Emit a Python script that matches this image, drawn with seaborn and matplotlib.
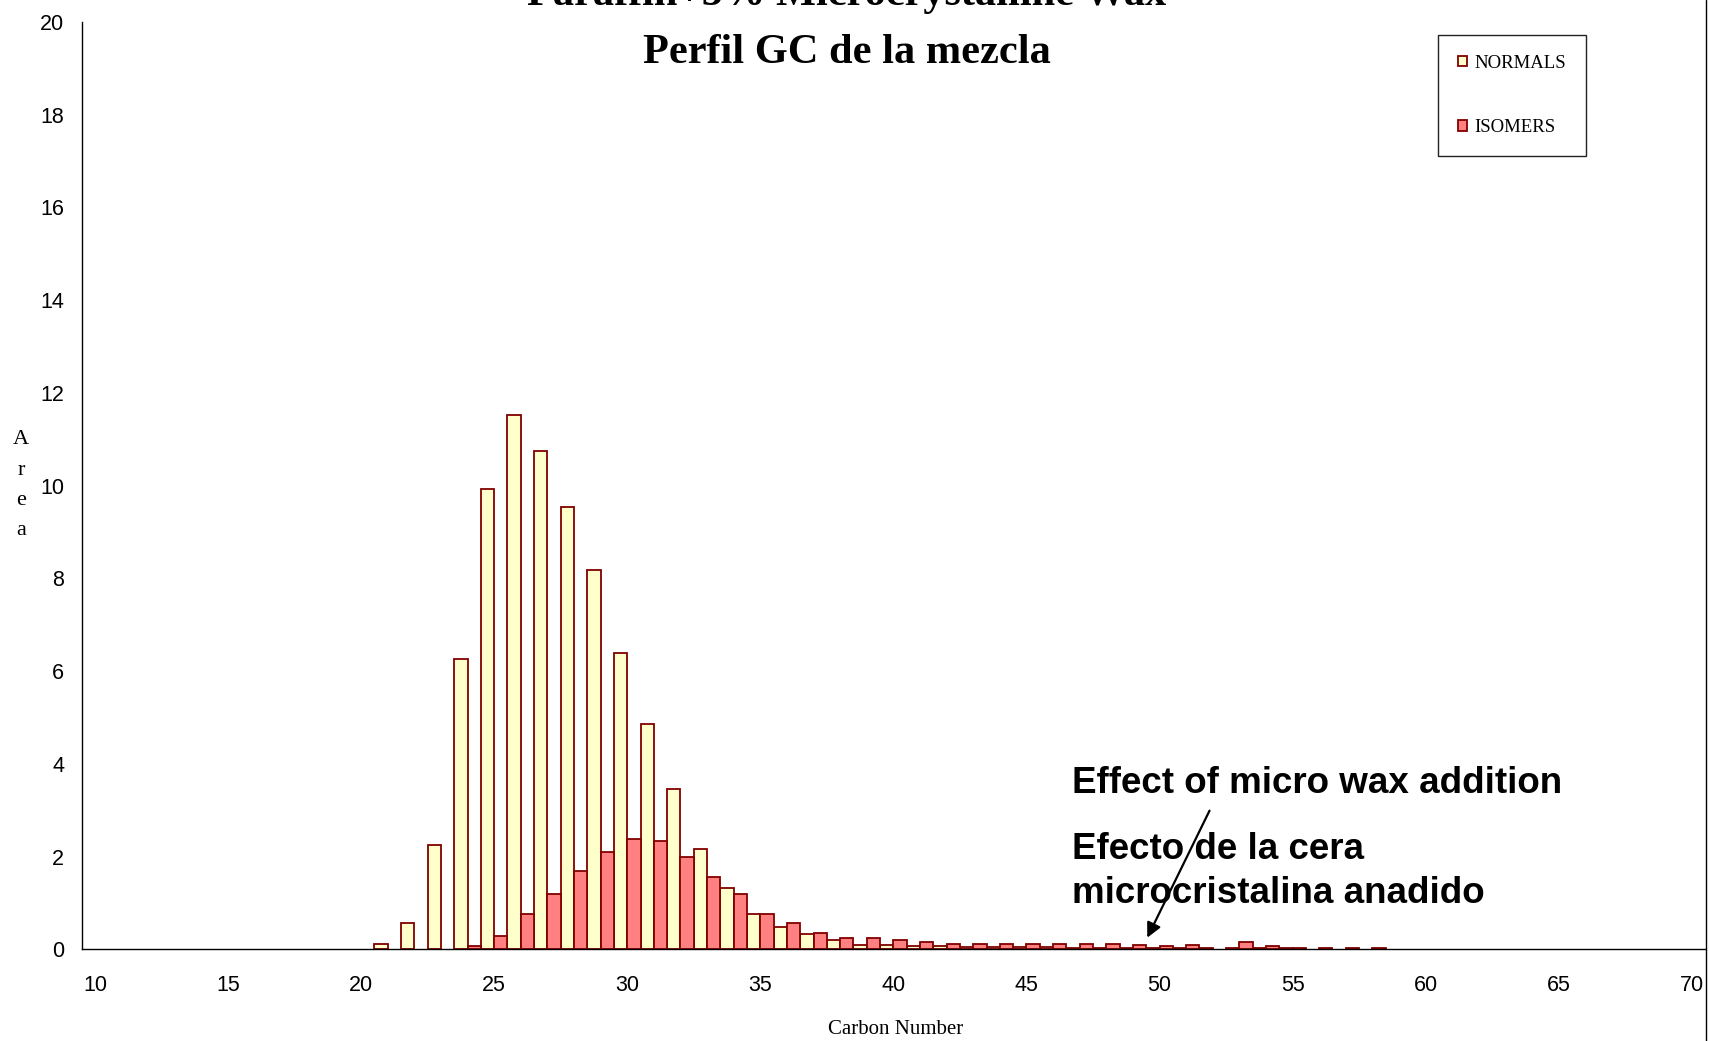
#!/usr/bin/env python
"""
GC profile of the paraffin + 5% microcrystalline wax blend.

Bar chart of peak area per carbon number, n-paraffins (NORMALS) next to
iso-paraffins (ISOMERS), with a note on the tail that the micro wax adds.
"""

import numpy as np
import pandas as pd
import matplotlib
matplotlib.use("Agg")
import matplotlib.pyplot as plt
import seaborn as sns
from matplotlib.lines import Line2D

# Carbon numbers shown on the category axis (10 .. 70)
carbon = list(range(10, 71))

# Peak area, NORMALS (one value per carbon number 10..70)
normals = [
    0, 0, 0, 0, 0, 0, 0, 0, 0, 0,              # 10-19
    0, 0.12, 0.57, 2.25, 6.27, 9.93, 11.52, 10.74, 9.53, 8.17,   # 20-29
    6.39, 4.86, 3.46, 2.17, 1.32, 0.76, 0.48, 0.32, 0.19, 0.10,  # 30-39
    0.10, 0.07, 0.07, 0.06, 0.06, 0.06, 0.045, 0.03, 0.03, 0.03,  # 40-49
    0.03, 0.03, 0.02, 0.03, 0.03, 0.03, 0, 0, 0, 0,              # 50-59
    0, 0, 0, 0, 0, 0, 0, 0, 0, 0, 0,                             # 60-70
]

# Peak area, ISOMERS
isomers = [
    0, 0, 0, 0, 0, 0, 0, 0, 0, 0,              # 10-19
    0, 0, 0, 0, 0.08, 0.29, 0.76, 1.20, 1.68, 2.09,              # 20-29
    2.37, 2.33, 2.00, 1.56, 1.20, 0.76, 0.56, 0.36, 0.245, 0.245,  # 30-39
    0.19, 0.16, 0.12, 0.12, 0.12, 0.12, 0.12, 0.12, 0.12, 0.085,   # 40-49
    0.08, 0.085, 0, 0.16, 0.08, 0.03, 0.03, 0.03, 0.03, 0,       # 50-59
    0, 0, 0, 0, 0, 0, 0, 0, 0, 0, 0,                             # 60-70
]

series_names = ["NORMALS", "ISOMERS"]
series_colors = ["#FFFFCC", "#FF8080"]
edge_color = "#800000"

x_tick_labels = list(range(10, 71, 5))
y_ticks = list(range(0, 21, 2))

title_lines = ["Paraffin+5% Microcrystalline Wax", "Perfil GC de la mezcla"]
note_lines = ["Effect of micro wax addition", "Efecto de la cera",
              "microcristalina anadido"]

SERIF = "Liberation Serif"
SANS = "Liberation Sans"


def build_frame():
    """Long-form table for seaborn, zero areas left out (nothing is drawn there)."""
    df = pd.DataFrame({
        "carbon": carbon * 2,
        "series": [series_names[0]] * len(carbon) + [series_names[1]] * len(carbon),
        "area": normals + isomers,
    })
    return df[df["area"] > 0].reset_index(drop=True)


def plot_profile(df):
    fig = plt.figure(figsize=(17.09, 10.41), dpi=100)
    ax = fig.add_axes([0.0478, 0.0881, 0.9499, 0.8908])

    sns.barplot(data=df, x="carbon", y="area", hue="series",
                hue_order=series_names, palette=series_colors,
                native_scale=True, width=1, gap=0, dodge=True,
                edgecolor=edge_color, linewidth=1.3, saturation=1,
                errorbar=None, ax=ax)

    ax.set_xlim(9.5, 70.5)
    ax.set_ylim(0, 20)

    # Excel style category axis: marks on the category edges, labels centred
    ax.set_xticks(np.arange(9.5, 70, 5))
    ax.set_xticks(x_tick_labels, minor=True)
    ax.set_xticklabels([str(v) for v in x_tick_labels], minor=True,
                       fontsize=15.5, family=SANS)
    ax.tick_params(axis="x", which="major", direction="inout", length=9.4,
                   width=1, labelbottom=False, color="#333333")
    ax.tick_params(axis="x", which="minor", length=0, pad=18.5)

    ax.set_yticks(y_ticks)
    ax.set_yticklabels([str(v) for v in y_ticks], fontsize=15.5, family=SANS)
    ax.tick_params(axis="y", direction="inout", length=9.4, width=1,
                   pad=8, color="#333333")

    for side in ["top", "right"]:
        ax.spines[side].set_visible(False)
    for side in ["left", "bottom"]:
        ax.spines[side].set_linewidth(1.0)
        ax.spines[side].set_color("black")

    ax.set_xlabel("Carbon Number", fontsize=15, family=SERIF, va="baseline")
    ax.xaxis.set_label_coords(0.5016, -0.0913)
    ax.set_ylabel("A\nr\ne\na", rotation=0, fontsize=16, family=SERIF,
                  ha="center", va="center", linespacing=1.8)
    ax.yaxis.set_label_coords(-0.0374, 0.5005)

    handles, labels = ax.get_legend_handles_labels()
    leg = ax.legend(handles, labels, loc="upper left",
                    bbox_to_anchor=(0.8414, 0.9664),
                    bbox_transform=fig.transFigure, borderaxespad=0,
                    fancybox=False, framealpha=1, edgecolor="#222222",
                    prop={"family": SERIF, "size": 13.5},
                    handlelength=0.5, handleheight=0.5, handletextpad=0.4,
                    labelspacing=2.55, borderpad=1.05)
    leg.get_frame().set_linewidth(1.0)

    # Two line title, the first line runs off the top of the picture
    fig.text(0.4956, 0.9952, title_lines[0], ha="center", va="baseline",
             fontsize=30.5, fontweight="bold", family=SERIF)
    fig.text(0.4956, 0.9395, title_lines[1], ha="center", va="baseline",
             fontsize=30.5, fontweight="bold", family=SERIF)

    # Note on the micro wax tail
    for text, y in zip(note_lines, [3.38, 1.95, 1.0]):
        ax.text(46.7, y, text, ha="left", va="baseline", fontsize=26.5,
                fontweight="bold", family=SANS)
    ax.annotate("", xy=(49.54, 0.25), xytext=(51.88, 2.99),
                arrowprops=dict(arrowstyle="-|>", lw=1.6, color="black",
                                mutation_scale=22, shrinkA=0, shrinkB=0))

    # chart area border, only its right edge is inside the picture
    fig.add_artist(Line2D([0.998, 0.998], [0, 1], transform=fig.transFigure,
                          color="black", lw=1))

    fig.savefig("out.png", dpi=100)
    plt.close(fig)


def main():
    sns.set_style("white")
    plt.rcParams["font.family"] = [SERIF, "DejaVu Sans"]
    for key in ["text.color", "axes.labelcolor", "xtick.color", "ytick.color"]:
        plt.rcParams[key] = "black"
    df = build_frame()
    plot_profile(df)


if __name__ == "__main__":
    main()
